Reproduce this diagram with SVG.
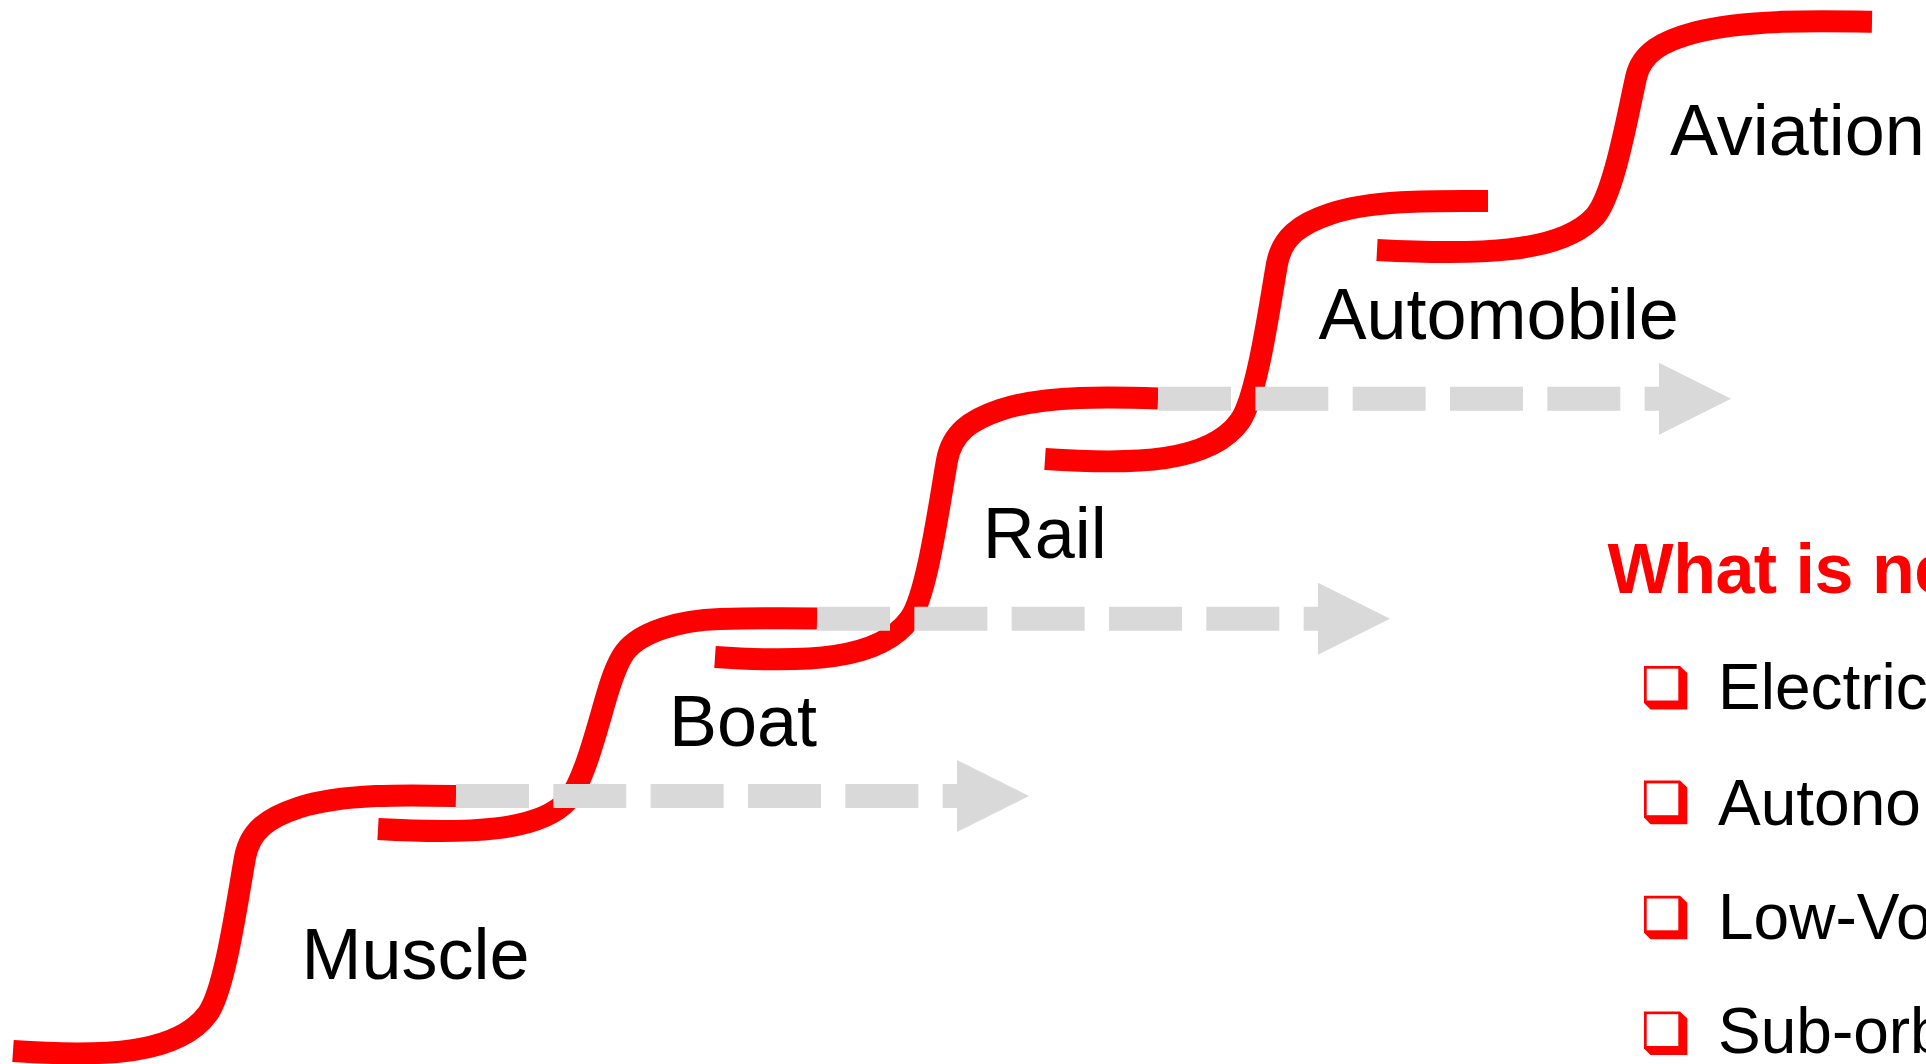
<svg xmlns="http://www.w3.org/2000/svg" width="1926" height="1064" viewBox="0 0 1926 1064">
<defs>
<style>
.step{fill:none;stroke:#FF0000;stroke-width:22;stroke-linecap:butt;stroke-linejoin:round}
.shaft{fill:none;stroke:#D9D9D9;stroke-width:24;stroke-dasharray:73 24.33;stroke-linecap:butt}
.head{fill:#D9D9D9;stroke:none}
.label{font-family:"Liberation Sans",Arial,sans-serif;font-size:72px;fill:#000000}
.title{font-family:"Liberation Sans",Arial,sans-serif;font-size:70px;font-weight:bold;fill:#FF0000;letter-spacing:-0.5px}
.item{font-family:"Liberation Sans",Arial,sans-serif;font-size:64px;fill:#000000}
.boxo{fill:#FF0000}
.boxi{fill:#FFFFFF}
</style>
<g id="box">
<polygon class="boxo" points="0,0 36,0 43.3,7 43.3,43.6 6.5,43.6 0,37"/>
<rect class="boxi" x="2.7" y="2.8" width="31.6" height="31.8"/>
</g>
</defs>
<rect x="0" y="0" width="1926" height="1064" fill="#FFFFFF"/>

<g id="step-muscle">
<path class="step" d="M13,1051 C103,1057 178,1055 208,1013.3 C225,989.5 237,902.2 245,857.5 C250,830.7 268,817.8 298,807.9 C343,793 413,795 456,796"/>
<text class="label" x="301.5" y="979">Muscle</text>
</g>
<g id="step-boat">
<path class="step" d="M378,829 C467,834 540,832 568,800 C582,784 594,740 604,705 C610,684 616,664 625,652 C640,632 680,620 720,619 C760,618 790,618 817,618.5"/>
<text class="label" x="669" y="746">Boat</text>
</g>
<g id="step-rail">
<path class="step" d="M715,657 C805,663 880,661 910,618.7 C927,594.5 939,505.8 947,460.5 C952,433.2 970,420.1 1000,410 C1045,394.9 1115,397 1158,398.5"/>
<text class="label" x="982.7" y="558.3">Rail</text>
</g>
<g id="step-automobile">
<path class="step" d="M1045,459 C1135,465 1210,463 1240,421 C1257,397 1269,309 1277,264 C1282,237 1300,224 1330,214 C1375,199 1445,201 1488,201"/>
<text class="label" x="1318.5" y="339">Automobile</text>
</g>
<g id="step-aviation">
<path class="step" d="M1377,250 C1477.5,255.3 1561.3,253.6 1594.9,216.3 C1613.8,194.9 1627.2,116.8 1636.2,76.8 C1641.7,52.9 1661.8,41.3 1695.3,32.4 C1745.6,19.1 1823.8,20.9 1872,21.8"/>
<text class="label" x="1670" y="155">Aviation</text>
</g>

<g id="connectors">
<g id="arrow-1">
<line class="shaft" x1="456" y1="796" x2="957" y2="796"/>
<polygon class="head" points="957,760 1029,796 957,832"/>
</g>
<g id="arrow-2">
<line class="shaft" x1="817" y1="618.7" x2="1318" y2="618.7"/>
<polygon class="head" points="1318,582.7 1390,618.7 1318,654.7"/>
</g>
<g id="arrow-3">
<line class="shaft" x1="1158" y1="398.7" x2="1659" y2="398.7"/>
<polygon class="head" points="1659,362.7 1731,398.7 1659,434.7"/>
</g>
</g>

<g id="whats-next">
<text class="title" x="1607.6" y="592.7">What is ne</text>
<g id="item-1">
<use href="#box" x="1644" y="665.9"/>
<text class="item" x="1718" y="709.4">Electric</text>
</g>
<g id="item-2">
<use href="#box" x="1644" y="780.6"/>
<text class="item" x="1718" y="824.8">Autono</text>
</g>
<g id="item-3">
<use href="#box" x="1644" y="895.7"/>
<text class="item" x="1718" y="939.2">Low-Vo</text>
</g>
<g id="item-4">
<use href="#box" x="1644" y="1011.4"/>
<text class="item" x="1718" y="1053.4">Sub-orb</text>
</g>
</g>
</svg>
